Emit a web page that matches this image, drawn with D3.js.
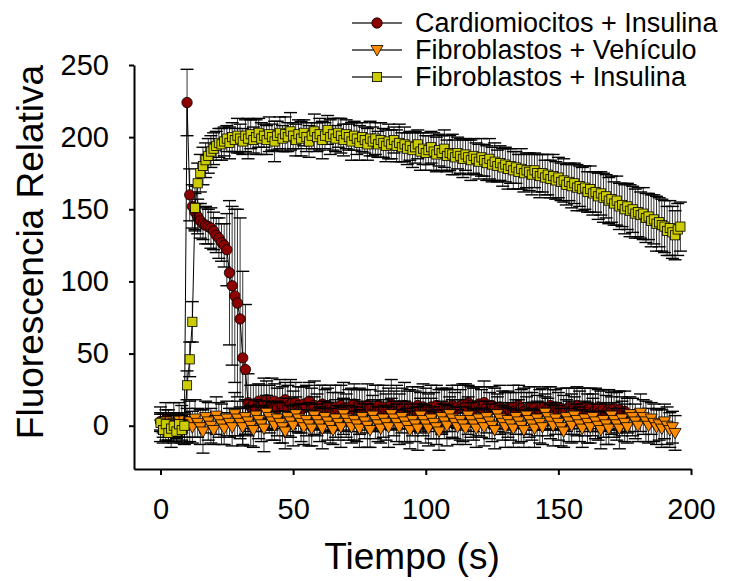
<!DOCTYPE html>
<html>
<head>
<meta charset="utf-8">
<script src="https://cdn.jsdelivr.net/npm/d3@7/dist/d3.min.js"></script>
<style>
body { margin: 0; background: #fff; }
svg text { font-family: "Liberation Sans", Arial, sans-serif; fill: #000; }
</style>
</head>
<body>
<div id="chart"></div>
<script>
"use strict";

// intervalo de muestreo (s)
var paso = 1;

var cardioIns = [3, 0, 4, 1, -2, 2, 0, 3, 1, -1,
    224, 160, 152, 148, 145, 142, 140, 139, 138, 137,
    135, 132, 130, 127, 125, 122, 106, 97, 90, 85,
    74, 47, 39, 16, 13, 15, 12, 17, 14, 16,
    18, 13, 15, 17, 12, 16, 14, 18, 13, 15,
    12, 16, 14, 11, 15, 13, 17, 12, 14, 10,
    13, 15, 11, 14, 12, 10, 13, 11, 14, 12,
    9, 13, 11, 15, 12, 10, 13, 11, 14, 12,
    9, 12, 14, 11, 13, 10, 12, 15, 11, 13,
    10, 12, 14, 11, 13, 12, 10, 14, 11, 13,
    12, 9, 13, 11, 14, 12, 10, 13, 11, 12,
    14, 11, 13, 12, 15, 13, 16, 14, 11, 13,
    15, 12, 16, 13, 11, 14, 12, 10, 13, 11,
    9, 12, 10, 13, 11, 14, 12, 10, 11, 13,
    10, 12, 9, 11, 13, 10, 12, 14, 11, 13,
    10, 12, 9, 11, 13, 10, 12, 14, 12, 11,
    13, 10, 12, 9, 11, 13, 10, 12, 9, 11,
    10, 12, 9, 11, 8, 10, 7];
var cardioInsErr = [6, 5, 7, 6, 5, 6, 7, 5, 6, 7,
    23, 18, 15, 13, 12, 12, 11, 13, 12, 14,
    13, 12, 14, 13, 15, 25, 50, 55, 60, 65,
    70, 60, 45, 20, 15, 13, 16, 12, 14, 17,
    13, 15, 18, 12, 14, 16, 13, 12, 15, 17,
    12, 14, 13, 16, 12, 15, 13, 14, 17, 12,
    15, 13, 14, 12, 16, 13, 15, 12, 14, 18,
    13, 12, 15, 14, 13, 16, 12, 14, 15, 13,
    12, 16, 14, 13, 15, 12, 14, 17, 13, 15,
    12, 14, 16, 13, 12, 15, 14, 13, 12, 16,
    14, 13, 15, 12, 14, 13, 16, 12, 15, 13,
    14, 12, 15, 13, 14, 16, 12, 13, 15, 14,
    12, 13, 15, 14, 12, 13, 14, 12, 15, 13,
    14, 12, 13, 15, 12, 14, 13, 16, 12, 14,
    13, 15, 12, 14, 13, 12, 15, 13, 14, 12,
    13, 14, 12, 15, 13, 12, 14, 13, 12, 15,
    13, 12, 14, 13, 15, 12, 14, 13, 12, 14,
    13, 12, 14, 13, 12, 14, 12];

var fibroVeh = [1, -2, 3, 0, -3, 2, -1, 4, 1, -2,
    0, 3, -1, 5, 2, -1, -4, 6, 3, 0,
    -3, 7, 4, 1, -2, 5, 2, -1, 8, 5,
    2, -1, 6, 3, 0, -3, 7, 4, 1, -2,
    9, 6, 3, 0, 5, 2, -1, -4, 6, 3,
    0, 8, 5, 2, -1, 4, 1, -2, 7, 4,
    1, -2, 6, 3, 0, -3, 5, 2, -1, 8,
    5, 2, -1, 4, 1, -2, 6, 3, 0, -3,
    7, 4, 1, -2, 5, 2, -1, 8, 5, 2,
    -1, 6, 3, 0, -3, 4, 1, -2, 7, 4,
    1, -2, 5, 2, -1, -4, 6, 3, 0, 8,
    5, 2, -1, 4, 1, -2, 7, 4, 1, -2,
    5, 2, -1, 6, 3, 0, -3, 8, 5, 2,
    -1, 4, 1, -2, 6, 3, 0, -3, 7, 4,
    1, -2, 5, 2, -1, 9, 6, 3, 0, 5,
    2, -1, -4, 6, 3, 0, 7, 4, 1, -2,
    5, 2, -1, 6, 3, 0, -3, 4, 1, -2,
    7, 4, 1, -2, 5, 2, -1, 8, 6, 3,
    0, 9, 6, 3, 0, 5, 2, -1, 1, -2,
    3, 0, -3, -1, -5];
var fibroVehErr = [12, 10, 13, 11, 12, 14, 10, 12, 13, 11,
    12, 14, 11, 13, 10, 12, 15, 11, 13, 12,
    10, 13, 12, 14, 11, 12, 10, 13, 15, 12,
    11, 13, 12, 10, 14, 12, 11, 13, 12, 16,
    12, 11, 13, 10, 12, 14, 11, 12, 13, 11,
    14, 12, 10, 13, 12, 11, 15, 12, 13, 11,
    12, 14, 11, 13, 12, 10, 13, 12, 14, 11,
    13, 12, 11, 14, 12, 13, 11, 12, 15, 12,
    11, 13, 12, 10, 13, 12, 14, 11, 12, 13,
    12, 11, 14, 12, 13, 11, 12, 15, 12, 11,
    13, 12, 14, 11, 12, 13, 11, 12, 14, 12,
    13, 11, 12, 14, 12, 11, 13, 12, 11, 13,
    12, 10, 13, 11, 12, 11, 13, 12, 11, 12,
    14, 12, 11, 13, 12, 15, 11, 12, 13, 12,
    11, 13, 12, 14, 12, 11, 13, 12, 14, 11,
    12, 13, 11, 12, 14, 12, 13, 11, 12, 13,
    12, 14, 11, 13, 12, 10, 13, 12, 14, 11,
    13, 12, 11, 14, 12, 13, 11, 12, 13, 12,
    11, 13, 12, 14, 12, 11, 13, 12, 11, 13,
    12, 13, 12, 11, 12];

var fibroIns = [2, -3, 1, -5, -2, 0, -4, 1, -3, 0,
    28, 46, 72, 151, 168, 175, 180, 184, 187, 190,
    192, 194, 196, 195, 197, 199, 196, 200, 198, 201,
    199, 197, 201, 199, 202, 198, 200, 203, 199, 201,
    198, 202, 200, 197, 201, 203, 199, 202, 200, 204,
    201, 198, 202, 199, 203, 200, 197, 201, 204, 200,
    202, 198, 201, 205, 200, 202, 199, 203, 201, 198,
    202, 200, 197, 201, 199, 196, 200, 198, 195, 199,
    197, 199, 195, 198, 196, 194, 197, 195, 198, 194,
    196, 193, 195, 192, 194, 191, 193, 195, 190, 192,
    189, 191, 193, 190, 188, 191, 189, 192, 187, 189,
    188, 186, 189, 187, 185, 188, 186, 184, 187, 185,
    183, 186, 184, 182, 185, 181, 183, 180, 182, 179,
    181, 178, 180, 177, 179, 176, 178, 175, 177, 176,
    174, 177, 175, 173, 175, 172, 174, 171, 173, 170,
    172, 169, 170, 167, 169, 166, 168, 165, 166, 164,
    165, 162, 164, 161, 162, 159, 161, 158, 159, 156,
    157, 154, 156, 152, 153, 150, 152, 149, 150, 147,
    148, 146, 147, 144, 145, 142, 143, 140, 141, 139,
    138, 135, 137, 134, 132, 136, 138];
var fibroInsErr = [6, 5, 7, 5, 6, 7, 5, 6, 7, 8,
    10, 12, 14, 15, 14, 13, 13, 12, 12, 11,
    11, 10, 10, 11, 10, 9, 11, 10, 8, 12,
    10, 9, 11, 14, 10, 9, 12, 10, 11, 8,
    10, 12, 9, 14, 10, 11, 9, 12, 10, 13,
    9, 11, 10, 12, 9, 10, 11, 9, 12, 10,
    11, 13, 9, 10, 12, 11, 9, 10, 12, 11,
    10, 9, 13, 10, 11, 12, 10, 9, 11, 12,
    10, 11, 9, 12, 10, 11, 12, 10, 9, 11,
    13, 10, 12, 11, 10, 12, 11, 10, 13, 11,
    12, 10, 11, 13, 12, 11, 12, 13, 11, 12,
    14, 12, 11, 12, 13, 11, 12, 14, 12, 11,
    12, 13, 11, 12, 14, 12, 13, 11, 12, 13,
    12, 14, 12, 13, 11, 12, 14, 13, 12, 13,
    14, 12, 13, 15, 13, 12, 14, 13, 15, 13,
    14, 13, 15, 14, 13, 15, 14, 16, 14, 15,
    15, 14, 16, 15, 14, 16, 15, 17, 15, 16,
    16, 15, 17, 16, 15, 17, 16, 18, 16, 17,
    17, 16, 18, 17, 16, 18, 17, 19, 17, 18,
    18, 17, 19, 18, 17, 18, 17];

var nombres = ["Cardiomiocitos + Insulina", "Fibroblastos + Vehículo", "Fibroblastos + Insulina"];
var colores = ["#8c0000", "#ff8c00", "#cccc00"];
var simbolos = ["circle", "triangle", "square"];
var xTicks = [0, 50, 100, 150, 200];
var yTicks = [0, 50, 100, 150, 200, 250];

function renderMyChart() {
    var svg = d3.select("#chart").append("svg")
        .attr("width", 732)
        .attr("height", 581);

    var x = d3.scaleLinear().domain([-10, 200]).range([134, 691]),
        y = d3.scaleLinear().domain([-30, 250]).range([469, 65]);

    var series = [
        { vals: cardioIns, err: cardioInsErr },
        { vals: fibroVeh, err: fibroVehErr },
        { vals: fibroIns, err: fibroInsErr }
    ].map(function (s, k) {
        return {
            nombre: nombres[k], color: colores[k], simbolo: simbolos[k],
            puntos: s.vals.map(function (v, i) { return { t: i * paso, v: v, e: s.err[i] }; })
        };
    });

    function marker(sel, tipo, color) {
        if (tipo === "circle") {
            sel.append("circle").attr("r", 5.2);
        } else if (tipo === "square") {
            sel.append("rect").attr("x", -4.6).attr("y", -4.6).attr("width", 9.2).attr("height", 9.2);
        } else {
            sel.append("path").attr("d", "M-6,-4.5L6,-4.5L0,6Z");
        }
        sel.selectAll("*").attr("fill", color).attr("stroke", "#000").attr("stroke-width", 0.8);
    }

    var line = d3.line().x(function (d) { return x(d.t); }).y(function (d) { return y(d.v); });

    series.forEach(function (s) {
        var g = svg.append("g");
        var eb = g.append("g").attr("stroke", "#000");
        eb.selectAll("line.v").data(s.puntos).enter().append("line")
            .attr("x1", function (d) { return x(d.t); })
            .attr("x2", function (d) { return x(d.t); })
            .attr("y1", function (d) { return y(d.v - d.e); })
            .attr("y2", function (d) { return y(d.v + d.e); })
            .attr("stroke-width", 0.8);
        [-1, 1].forEach(function (sg) {
            eb.selectAll(null).data(s.puntos).enter().append("line")
                .attr("x1", function (d) { return x(d.t) - 6.5; })
                .attr("x2", function (d) { return x(d.t) + 6.5; })
                .attr("y1", function (d) { return y(d.v + sg * d.e); })
                .attr("y2", function (d) { return y(d.v + sg * d.e); })
                .attr("stroke-width", 1.4);
        });
        g.append("path").datum(s.puntos)
            .attr("d", line)
            .attr("fill", "none")
            .attr("stroke", "#000")
            .attr("stroke-width", 1);
        g.selectAll("g.m").data(s.puntos).enter().append("g")
            .attr("transform", function (d) { return "translate(" + x(d.t) + "," + y(d.v) + ")"; })
            .each(function () { marker(d3.select(this), s.simbolo, s.color); });
    });

    // ejes
    var gy = svg.append("g").attr("transform", "translate(134,0)")
        .call(d3.axisLeft(y).tickValues(yTicks).tickSize(5).tickPadding(20).tickSizeOuter(0));
    var gx = svg.append("g").attr("transform", "translate(0,469)")
        .call(d3.axisBottom(x).tickValues(xTicks).tickSize(6).tickSizeOuter(0));
    [gy, gx].forEach(function (a) {
        a.selectAll("path, line").attr("stroke", "#000").attr("stroke-width", 2);
        a.selectAll("text").style("font-size", "29px").attr("font-family", null);
    });
    gx.selectAll("text").attr("y", 50).attr("dy", 0);

    svg.append("text")
        .attr("transform", "translate(43,252) rotate(-90)")
        .attr("text-anchor", "middle")
        .style("font-size", "37px")
        .text("Fluorescencia Relativa");
    svg.append("text")
        .attr("x", 412).attr("y", 569)
        .attr("text-anchor", "middle")
        .style("font-size", "37px")
        .text("Tiempo (s)");

    // leyenda
    var leg = svg.append("g").selectAll("g").data(series).enter().append("g")
        .attr("transform", function (d, i) { return "translate(0," + (23 + i * 27) + ")"; });
    leg.append("line").attr("x1", 352).attr("x2", 402)
        .attr("stroke", "#333").attr("stroke-width", 1.5);
    leg.append("g").attr("transform", "translate(377,0)")
        .each(function (d) { marker(d3.select(this), d.simbolo, d.color); });
    leg.append("text").attr("x", 415).attr("dy", "0.35em")
        .style("font-size", "27px")
        .text(function (d) { return d.nombre; });
}

renderMyChart();
</script>
</body>
</html>
